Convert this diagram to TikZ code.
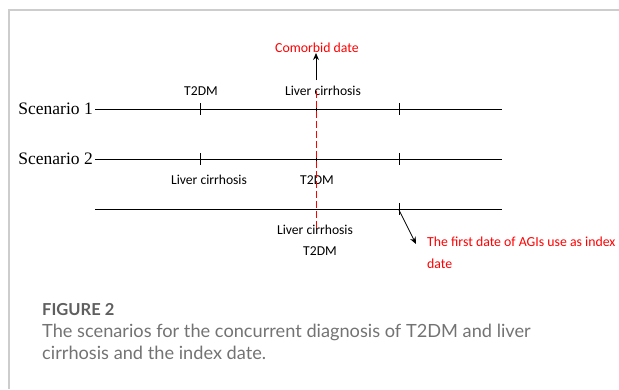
\documentclass[tikz,border=0pt]{standalone}
\usepackage{fontspec}
\usetikzlibrary{arrows.meta}
\newfontfamily\calfont{Carlito}
\newfontfamily\timfont{Liberation Serif}
\newfontfamily\capfont{Lato}
\definecolor{framegray}{RGB}{205,205,205}
\definecolor{capdark}{RGB}{95,95,95}
\definecolor{captext}{RGB}{115,115,115}
\definecolor{myred}{RGB}{255,0,0}
\tikzset{
  lbl/.style={font=\calfont\fontsize{13.6}{16}\selectfont, inner sep=0pt, text=black},
  redlbl/.style={font=\calfont\fontsize{13.8}{22}\selectfont, inner sep=0pt, text=myred},
  scen/.style={font=\timfont\fontsize{17.5}{20}\selectfont, inner sep=0pt, anchor=east},
  timeline/.style={line width=0.9pt, black},
  tickmark/.style={line width=0.8pt, black},
  reddash/.style={line width=1pt, myred, dash pattern=on 7pt off 3pt},
  arr/.style={line width=0.8pt, -{Stealth[length=7pt,width=6pt]}},
  frameline/.style={line width=1.4pt, framegray}
}
\begin{document}
\begin{tikzpicture}[x=1pt,y=-1pt]
\useasboundingbox (0,0) rectangle (619,389);
% frame
\draw[frameline] (8,10) -- (619,10);
\draw[frameline] (9,10) -- (9,389);
% timeline end points
\coordinate (s1a) at (95,109); \coordinate (s1b) at (502,109);
\coordinate (s2a) at (95,159); \coordinate (s2b) at (502,159);
\coordinate (s3a) at (95,209); \coordinate (s3b) at (502,209);
\draw[timeline] (s1a) -- (s1b);
\draw[timeline] (s2a) -- (s2b);
\draw[timeline] (s3a) -- (s3b);
% scenario labels
\node[scen] (sc1) at (93,109) {Scenario 1};
\node[scen] (sc2) at (93,159) {Scenario 2};
% ticks
\foreach \x/\y in {200/109,316/109,399/109,200/159,316/159,399/159,399/209}{
  \draw[tickmark] (\x,\y-6) -- (\x,\y+6);
}
% labels
\node[lbl] (t2dm1) at (201,91) {T2DM};
\node[lbl] (lc1) at (323,91) {Liver cirrhosis};
\node[lbl] (lc2) at (209,180) {Liver cirrhosis};
\node[lbl] (t2dm2) at (317,180) {T2DM};
\node[lbl] (lc3) at (315,230) {Liver cirrhosis};
\node[lbl] (t2dm3) at (320,251) {T2DM};
\node[redlbl] (comorbid) at (317,48) {Comorbid date};
\node[redlbl, anchor=north west, align=left] (index) at (427,237) {The first date of AGIs use as index\\date};
% red dashed comorbid line
\coordinate (rtop) at (316,91);
\coordinate (rbot) at (316,228);
\draw[reddash] (rtop) -- (rbot);
% arrows
\coordinate (atail) at (316,80);
\draw[arr] (atail) -- (comorbid.south -| atail);
\coordinate (itail) at (399,210);
\coordinate (ihead) at (416,244);
\draw[arr] (itail) -- (ihead);
% caption
\node[anchor=base west, inner sep=0pt, text=capdark, font=\capfont\bfseries\fontsize{16.5}{20}\selectfont] (fig) at (42,315) {FIGURE 2};
\node[anchor=base west, inner sep=0pt, text=captext, font=\capfont\fontsize{18.2}{20}\selectfont] (cap1) at (42,337) {The scenarios for the concurrent diagnosis of T2DM and liver};
\node[anchor=base west, inner sep=0pt, text=captext, font=\capfont\fontsize{18.2}{20}\selectfont] (cap2) at (42,359) {cirrhosis and the index date.};
\end{tikzpicture}
\end{document}
